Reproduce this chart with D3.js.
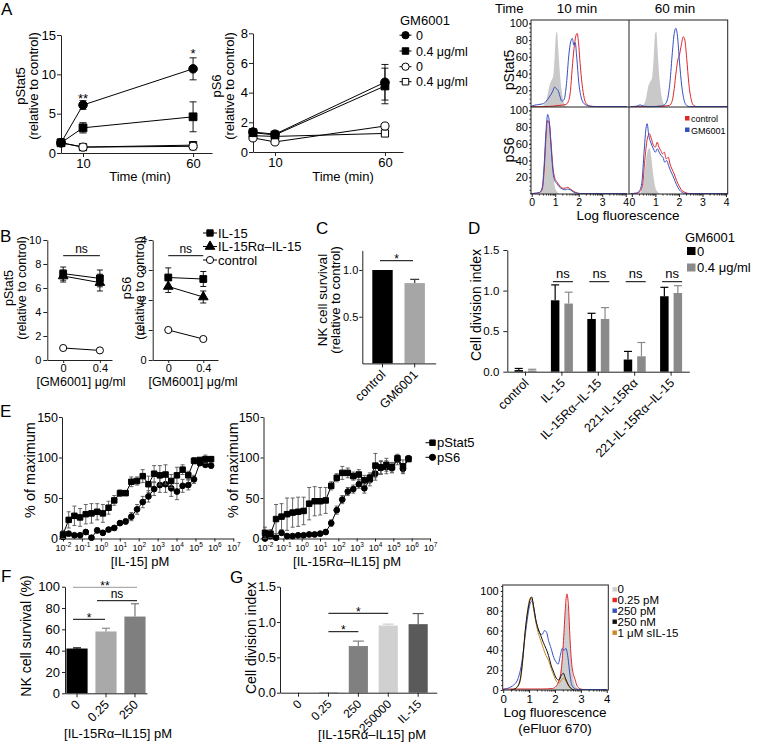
<!DOCTYPE html>
<html><head><meta charset="utf-8">
<script src="https://cdn.jsdelivr.net/npm/d3@7"></script>
<style>body{margin:0;background:#fff}svg{display:block}</style>
</head><body>
<script>
// ================= DATA =================
// Panel A – time course
const aTime = [0, 10, 60];
const aTimeTicks = [10, 60];
const aStat5Ticks = [0, 5, 10, 15];
const aS6Ticks = [0, 2, 4, 6, 8];
const aStat5Gm0 = [1.3, 6.1, 10.7],  aStat5Gm0Err = [0.2, 0.55, 1.4];
const aStat5Gm04 = [1.3, 3.2, 4.6],  aStat5Gm04Err = [0.2, 0.65, 1.9];
const aStat5Un0 = [1.3, 0.75, 0.85], aStat5Un0Err = [0.1, 0.12, 0.45];
const aStat5Un04 = [1.3, 0.75, 1.0], aStat5Un04Err = [0.1, 0.1, 0.35];
const aS6Gm0 = [1.35, 1.2, 4.7],  aS6Gm0Err = [0.2, 0.15, 1.2];
const aS6Gm04 = [1.3, 1.15, 4.45], aS6Gm04Err = [0.2, 0.15, 1.2];
const aS6Un0 = [0.95, 0.68, 1.75], aS6Un0Err = [0.08, 0.08, 0.1];
const aS6Un04 = [1.1, 1.05, 1.25], aS6Un04Err = [0.08, 0.08, 0.1];
const aLegendLabels = ["0", "0.4 μg/ml", "0", "0.4 μg/ml"];

// Panel A – histograms [log fluorescence, % of max]
const histYTicks = [20, 40, 60, 80, 100];
const histXTicks = [0, 1, 2, 3, 4];
const hS5t10Iso = [[0.35,0],[0.5,2],[0.6,6],[0.7,18],[0.78,28],[0.85,32],[0.92,38],[0.98,62],[1.03,86],[1.08,90],[1.13,70],[1.2,40],[1.28,18],[1.36,6],[1.45,1],[1.55,0]];
const hS5t10Ctl = [[-0.05,0.5],[0.5,0.5],[0.9,1],[1.2,2],[1.45,3],[1.55,6],[1.65,20],[1.72,45],[1.8,70],[1.87,84],[1.93,88],[1.99,78],[2.06,52],[2.14,28],[2.24,10],[2.35,3],[2.5,1],[2.8,0.5],[4.05,0.5]];
const hS5t10Gm = [[-0.05,0.5],[0.1,2],[0.3,3],[0.5,4],[0.62,7],[0.75,12],[0.88,18],[0.98,24],[1.04,22],[1.12,20],[1.2,13],[1.28,7],[1.38,9],[1.48,28],[1.58,62],[1.66,78],[1.73,82],[1.79,74],[1.85,77],[1.92,58],[2.0,30],[2.1,12],[2.2,5],[2.35,2],[2.6,0.5],[4.05,0.5]];
const hS5t60Iso = [[0.35,0],[0.5,3],[0.6,10],[0.7,25],[0.78,30],[0.86,35],[0.93,60],[0.99,88],[1.04,90],[1.1,65],[1.17,35],[1.25,15],[1.33,5],[1.42,1],[1.5,0]];
const hS5t60Ctl = [[-0.05,0.5],[0.8,0.5],[1.3,1],[1.6,2],[1.72,8],[1.8,22],[1.88,42],[1.95,56],[2.02,62],[2.1,74],[2.18,84],[2.25,80],[2.33,58],[2.42,28],[2.52,9],[2.62,2],[2.75,0.5],[4.05,0.5]];
const hS5t60Gm = [[-0.05,0.5],[0.2,1],[0.35,2.5],[0.5,1],[0.8,0.5],[1.2,1],[1.4,3],[1.52,10],[1.62,30],[1.72,65],[1.8,88],[1.87,94],[1.94,84],[2.02,55],[2.12,25],[2.22,8],[2.32,2],[2.45,0.5],[4.05,0.5]];
const hS6t10Iso = [[0.3,0],[0.42,4],[0.52,25],[0.6,60],[0.67,80],[0.74,88],[0.81,72],[0.88,40],[0.95,15],[1.05,4],[1.2,0]];
const hS6t10Ctl = [[-0.05,0.5],[0.2,1],[0.35,2],[0.45,6],[0.53,28],[0.61,68],[0.68,88],[0.75,84],[0.82,62],[0.9,33],[0.98,19],[1.06,15],[1.16,11],[1.3,7],[1.42,7],[1.53,8],[1.64,6],[1.8,3],[1.95,1],[2.1,0.5],[4.05,0.5]];
const hS6t10Gm = [[-0.05,0.5],[0.2,1],[0.35,2],[0.45,8],[0.53,35],[0.61,76],[0.68,95],[0.75,86],[0.82,58],[0.9,28],[0.98,16],[1.06,13],[1.16,9],[1.3,6],[1.42,5],[1.53,6],[1.64,5],[1.8,2],[1.95,1],[2.1,0.5],[4.05,0.5]];
const hS6t60Iso = [[0.3,0],[0.42,4],[0.52,20],[0.6,40],[0.68,52],[0.75,55],[0.82,45],[0.9,25],[0.98,10],[1.08,3],[1.2,0]];
const hS6t60Ctl = [[-0.05,0.5],[0.2,1],[0.35,3],[0.45,10],[0.55,40],[0.65,65],[0.75,72],[0.83,66],[0.92,58],[1.0,56],[1.08,62],[1.15,56],[1.23,52],[1.3,48],[1.38,50],[1.46,42],[1.55,44],[1.62,36],[1.7,30],[1.8,24],[1.9,16],[2.0,10],[2.1,5],[2.25,2],[2.45,0.5],[4.05,0.5]];
const hS6t60Gm = [[-0.05,0.5],[0.2,1],[0.33,4],[0.43,15],[0.52,50],[0.6,78],[0.65,84],[0.72,70],[0.8,62],[0.9,55],[1.0,50],[1.08,54],[1.16,50],[1.24,46],[1.32,44],[1.4,38],[1.48,40],[1.56,34],[1.64,28],[1.74,22],[1.84,15],[1.95,8],[2.05,4],[2.2,1],[2.4,0.5],[4.05,0.5]];

// Panel B
const bConc = [0, 0.4];
const bStat5Ticks = [0, 2, 4, 6, 8, 10];
const bS6Ticks = [0, 1, 2, 3, 4];
const bStat5IL15 = [7.2, 6.8], bStat5IL15Err = [0.55, 0.7];
const bStat5Cx = [7.0, 6.45], bStat5CxErr = [0.5, 0.7];
const bStat5Ctl = [1.0, 0.8];
const bS6IL15 = [2.75, 2.7], bS6IL15Err = [0.32, 0.25];
const bS6Cx = [2.45, 2.1], bS6CxErr = [0.2, 0.2];
const bS6Ctl = [1.0, 0.7];
const bLegendLabels = ["IL-15", "IL-15Rα–IL-15", "control"];

// Panel C
const cCats = ["control", "GM6001"];
const cVals = [1.0, 0.86];
const cErr = [0, 0.04];
const cTicks = [0.5, 1.0];

// Panel D
const dCats = ["control", "IL-15", "IL-15Rα–IL-15", "221-IL-15Rα", "221-IL-15Rα–IL-15"];
const dSeries = ["0", "0.4 μg/ml"];
const dVals0 = [0.02, 0.88, 0.65, 0.15, 0.93];
const dErr0 = [0.02, 0.19, 0.07, 0.10, 0.11];
const dVals04 = [0.015, 0.84, 0.65, 0.19, 0.97];
const dErr04 = [0.015, 0.14, 0.14, 0.17, 0.09];
const dTicks = [0, 0.5, 1.0, 1.5];

// Panel E – 2-fold dilution series (pM)
const eConc = [0.01, 0.02, 0.04, 0.08, 0.16, 0.32, 0.64, 1.28, 2.56, 5.12, 10.24, 20.48, 40.96, 81.92, 163.8, 327.7, 655.4, 1311, 2621, 5243, 10486, 20972, 41943, 83886, 167772, 335544, 671089];
const eXTicks = [1e-2, 1e-1, 1e0, 1e1, 1e2, 1e3, 1e4, 1e5, 1e6, 1e7];
const eYTicks = [0, 50, 100, 150];
const eIL15Stat5 = [5, 23, 28, 26, 30, 31, 33, 31, 38, 47, 56, 56, 70, 71, 77, 67, 80, 78, 79, 71, 78, 85, 78, 96, 97, 98, 98];
const eIL15Stat5Err = [5, 10, 12, 11, 12, 12, 10, 11, 8, 6, 4, 3, 6, 5, 8, 10, 10, 12, 12, 8, 10, 6, 5, 4, 3, 5, 3];
const eIL15S6 = [2, 6, 4, 4, 8, 1, 10, 7, 11, 13, 19, 21, 27, 36, 45, 52, 61, 66, 67, 62, 58, 65, 66, 73, 93, 91, 90];
const eIL15S6Err = [3, 2, 2, 2, 3, 1, 3, 3, 2, 2, 3, 3, 5, 6, 7, 7, 8, 9, 10, 10, 10, 8, 6, 5, 3, 3, 3];
const eCxStat5 = [7, 6, 24, 27, 30, 32, 33, 34, 43, 46, 46, 47, 65, 75, 81, 81, 77, 79, 72, 75, 90, 88, 91, 88, 99, 89, 98];
const eCxStat5Err = [7, 5, 18, 16, 20, 18, 18, 17, 20, 18, 17, 16, 5, 5, 8, 6, 5, 6, 6, 6, 15, 8, 8, 6, 5, 8, 3];
const eCxS6 = [0, 3, 1, 7, 3, 3, 4, 4, 5, 5, 6, 8, 19, 35, 48, 58, 61, 67, 62, 72, 80, 87, 88, 87, 97, 86, 99];
const eCxS6Err = [2, 2, 2, 3, 2, 2, 2, 2, 2, 2, 2, 3, 4, 5, 5, 5, 5, 5, 6, 7, 8, 8, 8, 6, 6, 6, 3];

// Panel F
const fCats = ["0", "0.25", "250"];
const fVals = [42, 58, 72];
const fErr = [0.6, 3, 12];
const fTicks = [0, 20, 40, 60, 80, 100];

// Panel G bars
const gCats = ["0", "0.25", "250", "250000", "IL-15"];
const gVals = [0, 0.006, 0.66, 0.95, 0.97];
const gErr = [0, 0, 0.07, 0.02, 0.15];
const gTicks = [0, 0.5, 1.0, 1.5];

// Panel G histogram
const gHistYTicks = [0, 20, 40, 60, 80, 100];
const gHistLabels = ["0", "0.25 pM", "250 pM", "250 nM", "1 μM sIL-15"];
const gH0 = [[1.85,0],[2.0,2],[2.1,6],[2.2,16],[2.3,40],[2.38,72],[2.45,88],[2.52,78],[2.58,50],[2.65,24],[2.72,10],[2.82,3],[2.95,0]];
const gH025 = [[0,1],[0.5,1],[1.0,1],[1.5,1],[1.9,1.5],[2.05,4],[2.15,9],[2.25,22],[2.33,50],[2.4,82],[2.46,97],[2.52,85],[2.58,52],[2.64,28],[2.7,17],[2.76,12],[2.84,5],[2.95,1.5],[3.1,0.5],[4,0.5]];
const gH250p = [[0,0.5],[0.2,2],[0.4,5],[0.55,10],[0.7,25],[0.85,55],[0.95,75],[1.05,88],[1.12,90],[1.2,80],[1.3,65],[1.4,58],[1.5,56],[1.6,60],[1.68,58],[1.75,50],[1.85,42],[1.95,33],[2.05,28],[2.12,26],[2.2,34],[2.28,42],[2.35,40],[2.42,42],[2.5,33],[2.58,15],[2.65,5],[2.8,1],[3.0,0.5],[4,0.5]];
const gH250n = [[0.3,0],[0.5,2],[0.65,10],[0.75,30],[0.85,60],[0.95,80],[1.05,92],[1.1,94],[1.17,85],[1.25,72],[1.35,62],[1.45,55],[1.55,48],[1.65,42],[1.75,35],[1.85,25],[1.95,18],[2.05,12],[2.15,10],[2.25,15],[2.32,17],[2.4,12],[2.5,6],[2.6,2],[2.75,0]];
const gH1u = [[0.3,0],[0.5,2],[0.65,8],[0.75,28],[0.85,58],[0.95,82],[1.05,93],[1.1,92],[1.17,82],[1.25,70],[1.35,58],[1.45,50],[1.55,42],[1.65,35],[1.75,30],[1.85,22],[1.95,15],[2.05,9],[2.15,7],[2.25,10],[2.32,12],[2.4,10],[2.5,5],[2.6,2],[2.75,0]];

// ================= DRAWING =================
const FONT = "'Liberation Sans', Arial, Helvetica, sans-serif";
const RED = "#e0262b", BLUE = "#3550c0", ORANGE = "#c88a22";
const svg = d3.select("body").append("svg").attr("width", 757).attr("height", 742).attr("font-family", FONT);

function T(x, y, s, fs, anchor = "start", fill = "#000") {
  return svg.append("text").attr("x", x).attr("y", y).attr("font-size", fs).attr("text-anchor", anchor).attr("fill", fill).text(s);
}
function VT(x, y, s, fs) {
  return svg.append("text").attr("transform", `translate(${x},${y}) rotate(-90)`).attr("font-size", fs).attr("text-anchor", "middle").text(s);
}
function sty(g, fs) {
  g.attr("font-family", FONT);
  g.select(".domain").attr("stroke", "#222");
  g.selectAll(".tick line").attr("stroke", "#222");
  g.selectAll(".tick text").attr("font-size", fs).attr("fill", "#000");
  return g;
}
function axL(x, sc, ticks, fs, fmt, ts = 4, pad = 2) {
  const a = d3.axisLeft(sc).tickSize(ts).tickSizeOuter(0).tickPadding(pad);
  if (ticks) a.tickValues(ticks);
  a.tickFormat(fmt || (d => d));
  return sty(svg.append("g").attr("transform", `translate(${x},0)`).call(a), fs);
}
function axB(y, sc, ticks, fs, fmt, ts = 4, pad = 2) {
  const a = d3.axisBottom(sc).tickSize(ts).tickSizeOuter(0).tickPadding(pad);
  if (ticks) a.tickValues(ticks);
  a.tickFormat(fmt || (d => d));
  return sty(svg.append("g").attr("transform", `translate(0,${y})`).call(a), fs);
}
function minorL(x, sc, vals, ts) {
  const g = svg.append("g").attr("transform", `translate(${x},0)`).call(d3.axisLeft(sc).tickValues(vals).tickSize(ts).tickFormat(""));
  g.select(".domain").remove(); g.selectAll("line").attr("stroke", "#222");
}
function minorB(y, sc, vals, ts) {
  const g = svg.append("g").attr("transform", `translate(0,${y})`).call(d3.axisBottom(sc).tickValues(vals).tickSize(ts).tickFormat(""));
  g.select(".domain").remove(); g.selectAll("line").attr("stroke", "#222");
}
function errV(g, x, y1, y2, cap, color, lw = 1) {
  g.append("line").attr("x1", x).attr("x2", x).attr("y1", y1).attr("y2", y2).attr("stroke", color).attr("stroke-width", lw);
  [y1, y2].forEach(y => g.append("line").attr("x1", x - cap / 2).attr("x2", x + cap / 2).attr("y1", y).attr("y2", y).attr("stroke", color).attr("stroke-width", lw));
}
function series(sx, sy, xs, ys, errs, sym, size, filled, cap, errColor = "#000") {
  const g = svg.append("g");
  if (errs) ys.forEach((v, i) => { if (errs[i] > 0) errV(g, sx(xs[i]), sy(v - errs[i]), sy(v + errs[i]), cap, errColor, 0.9); });
  g.append("path").attr("d", d3.line().x((d, i) => sx(xs[i])).y(d => sy(d))(ys)).attr("fill", "none").attr("stroke", "#000").attr("stroke-width", 1);
  const s = d3.symbol().type(sym).size(size)();
  ys.forEach((v, i) => g.append("path").attr("d", s).attr("transform", `translate(${sx(xs[i])},${sy(v)})`)
    .attr("fill", filled ? "#000" : "#fff").attr("stroke", "#000").attr("stroke-width", 1));
}
function legendRow(x, y, sym, size, filled, label, fs, lineL, lineR, tx) {
  svg.append("line").attr("x1", x - lineL).attr("x2", x + lineR).attr("y1", y).attr("y2", y).attr("stroke", "#000");
  svg.append("path").attr("d", d3.symbol().type(sym).size(size)()).attr("transform", `translate(${x},${y})`)
    .attr("fill", filled ? "#000" : "#fff").attr("stroke", "#000");
  T(tx, y + fs * 0.36, label, fs);
}
function histLine(sx, sy, pts, color) {
  svg.append("path").attr("d", d3.line().x(d => sx(d[0])).y(d => sy(d[1])).curve(d3.curveMonotoneX)(pts))
    .attr("fill", "none").attr("stroke", color).attr("stroke-width", 1);
}
function histArea(sx, sy, pts, color) {
  svg.append("path").attr("d", d3.area().x(d => sx(d[0])).y0(sy(0)).y1(d => sy(d[1])).curve(d3.curveMonotoneX)(pts))
    .attr("fill", color).attr("stroke", "none");
}
function bars(sx, sy, cats, vals, errs, colors, errColors, capW) {
  const g = svg.append("g");
  cats.forEach((c, i) => {
    const x = sx(c), w = sx.bandwidth();
    g.append("rect").attr("x", x).attr("width", w).attr("y", sy(vals[i])).attr("height", sy(0) - sy(vals[i])).attr("fill", colors[i]);
    if (errs[i] > 0) {
      const cx = x + w / 2;
      g.append("line").attr("x1", cx).attr("x2", cx).attr("y1", sy(vals[i])).attr("y2", sy(vals[i] + errs[i])).attr("stroke", errColors[i]).attr("stroke-width", 1.2);
      g.append("line").attr("x1", cx - capW / 2).attr("x2", cx + capW / 2).attr("y1", sy(vals[i] + errs[i])).attr("y2", sy(vals[i] + errs[i])).attr("stroke", errColors[i]).attr("stroke-width", 1.2);
    }
  });
}
function rotLabels(g, fs) {
  g.selectAll(".tick text").attr("font-size", fs).attr("text-anchor", "end")
    .attr("dy", null).attr("y", null).attr("transform", "translate(4,12) rotate(-45)");
}
function bracket(x1, x2, y, label, ly, fs, color = "#000") {
  svg.append("line").attr("x1", x1).attr("x2", x2).attr("y1", y).attr("y2", y).attr("stroke", color).attr("stroke-width", 1);
  T((x1 + x2) / 2, ly, label, fs, "middle");
}

// ---------- Panel letters ----------
[["A", 1, 15], ["B", 0, 242], ["C", 316, 234], ["D", 468, 234], ["E", 0, 417], ["F", 1, 582], ["G", 230, 583]]
  .forEach(([l, x, y]) => T(x, y, l, 17));

// ---------- Panel A: pStat5 time course ----------
{
  const sx = d3.scaleLinear().domain([0, 68.6]).range([61, 212]);
  const sy = d3.scaleLinear().domain([0, 15]).range([153, 35]);
  axL(61, sy, aStat5Ticks, 13, null, 4, 1);
  axB(153, sx, aTimeTicks, 13, null, 4, 2);
  VT(25, 86, "pStat5", 13); VT(38, 86, "(relative to control)", 13);
  T(140, 181, "Time (min)", 13, "middle");
  series(sx, sy, aTime, aStat5Un04, aStat5Un04Err, d3.symbolSquare, 52, false, 7);
  series(sx, sy, aTime, aStat5Un0, aStat5Un0Err, d3.symbolCircle, 52, false, 7);
  series(sx, sy, aTime, aStat5Gm04, aStat5Gm04Err, d3.symbolSquare, 60, true, 7);
  series(sx, sy, aTime, aStat5Gm0, aStat5Gm0Err, d3.symbolCircle, 58, true, 7);
  T(sx(10), 102.5, "**", 13, "middle");
  T(sx(60), 58, "*", 13, "middle");
}
// ---------- Panel A: pS6 time course ----------
{
  const sx = d3.scaleLinear().domain([0, 68.2]).range([253, 403]);
  const sy = d3.scaleLinear().domain([0, 8]).range([152, 33.3]);
  axL(253, sy, aS6Ticks, 13, null, 4, 1);
  axB(152, sx, aTimeTicks, 13, null, 4, 2);
  VT(221, 86, "pS6", 13); VT(234, 86, "(relative to control)", 13);
  T(343, 181, "Time (min)", 13, "middle");
  series(sx, sy, aTime, aS6Un04, aS6Un04Err, d3.symbolSquare, 52, false, 7);
  series(sx, sy, aTime, aS6Un0, aS6Un0Err, d3.symbolCircle, 52, false, 7);
  series(sx, sy, aTime, aS6Gm04, aS6Gm04Err, d3.symbolSquare, 60, true, 7);
  series(sx, sy, aTime, aS6Gm0, aS6Gm0Err, d3.symbolCircle, 58, true, 7);
  // legend
  T(400, 24.5, "GM6001", 13);
  const syms = [[d3.symbolCircle, true], [d3.symbolSquare, true], [d3.symbolCircle, false], [d3.symbolSquare, false]];
  [35.2, 51, 66.7, 81.7].forEach((y, i) => legendRow(405.5, y, syms[i][0], 42, syms[i][1], aLegendLabels[i], 12.5, 6, 6, 416));
}
// ---------- Panel A: histograms ----------
{
  const x10 = d3.scaleLinear().domain([-0.03, 4.14]).range([531, 629]);
  const x60 = d3.scaleLinear().domain([-0.12, 4.07]).range([629, 727.7]);
  const yTop = d3.scaleLinear().domain([0, 104]).range([107, 20]);
  const yBot = d3.scaleLinear().domain([0, 104]).range([194, 107]);
  const GRAY = "#c9c9c9";
  histArea(x10, yTop, hS5t10Iso, GRAY); histLine(x10, yTop, hS5t10Ctl, RED); histLine(x10, yTop, hS5t10Gm, BLUE);
  histArea(x60, yTop, hS5t60Iso, GRAY); histLine(x60, yTop, hS5t60Ctl, RED); histLine(x60, yTop, hS5t60Gm, BLUE);
  histArea(x10, yBot, hS6t10Iso, GRAY); histLine(x10, yBot, hS6t10Ctl, RED); histLine(x10, yBot, hS6t10Gm, BLUE);
  histArea(x60, yBot, hS6t60Iso, GRAY); histLine(x60, yBot, hS6t60Ctl, RED); histLine(x60, yBot, hS6t60Gm, BLUE);
  svg.append("rect").attr("x", 531).attr("y", 20).attr("width", 196.7).attr("height", 174).attr("fill", "none").attr("stroke", "#222");
  svg.append("line").attr("x1", 629).attr("x2", 629).attr("y1", 20).attr("y2", 194).attr("stroke", "#222");
  svg.append("line").attr("x1", 531).attr("x2", 727.7).attr("y1", 107).attr("y2", 107).attr("stroke", "#222");
  const minorY = d3.range(5, 104, 5);
  [yTop, yBot].forEach(sy => { axL(531, sy, histYTicks, 11, null, 2, 1).select(".domain").remove(); minorL(531, sy, minorY, 1.5); });
  const minorX = [];
  [0, 1, 2, 3].forEach(k => [2, 3, 4, 5, 6, 7, 8, 9].forEach(m => minorX.push(k + Math.log10(m))));
  [x10, x60].forEach(sx => { axB(194, sx, histXTicks, 10.5, null, 3, 2).select(".domain").remove(); minorB(194, sx, minorX, 1.5); });
  T(495, 13, "Time", 13); T(577, 13, "10 min", 13.5, "middle"); T(675, 13, "60 min", 13.5, "middle");
  VT(514, 70, "pStat5", 14); VT(514, 150, "pS6", 14);
  T(628, 219.5, "Log fluorescence", 13.5, "middle");
  svg.append("rect").attr("x", 685).attr("y", 116).attr("width", 4.5).attr("height", 4.5).attr("fill", RED);
  svg.append("rect").attr("x", 685).attr("y", 127.5).attr("width", 4.5).attr("height", 4.5).attr("fill", BLUE);
  T(691, 122, "control", 9); T(691, 133.5, "GM6001", 9);
}

// ---------- Panel B ----------
{
  const sx1 = d3.scaleLinear().domain([-0.173, 0.532]).range([47.3, 112]);
  const sy1 = d3.scaleLinear().domain([0, 10]).range([360, 240]);
  axL(47.3, sy1, bStat5Ticks, 11, null, 4, 2);
  axB(360, sx1, bConc, 11, null, 3, 1);
  VT(13, 288, "pStat5", 12.5); VT(26, 288, "(relative to control)", 12.5);
  T(81, 385.5, "[GM6001] μg/ml", 12.5, "middle");
  series(sx1, sy1, bConc, bStat5Ctl, null, d3.symbolCircle, 40, false, 6);
  series(sx1, sy1, bConc, bStat5Cx, bStat5CxErr, d3.symbolTriangle, 40, true, 6);
  series(sx1, sy1, bConc, bStat5IL15, bStat5IL15Err, d3.symbolSquare, 46, true, 6);
  bracket(sx1(0), sx1(0.4), 255.7, "ns", 253, 12);

  const sx2 = d3.scaleLinear().domain([-0.178, 0.568]).range([152.7, 218]);
  const sy2 = d3.scaleLinear().domain([0, 4]).range([360, 240]);
  axL(152.7, sy2, bS6Ticks, 11, null, 4, 2);
  axB(360, sx2, bConc, 11, null, 3, 1);
  VT(131, 288, "pS6", 12.5); VT(144, 288, "(relative to control)", 12.5);
  T(193, 385.5, "[GM6001] μg/ml", 12.5, "middle");
  series(sx2, sy2, bConc, bS6Ctl, null, d3.symbolCircle, 40, false, 6);
  series(sx2, sy2, bConc, bS6Cx, bS6CxErr, d3.symbolTriangle, 40, true, 6);
  series(sx2, sy2, bConc, bS6IL15, bS6IL15Err, d3.symbolSquare, 46, true, 6);
  bracket(sx2(0), sx2(0.4), 255.7, "ns", 253, 12);

  const bs = [[d3.symbolSquare, true], [d3.symbolTriangle, true], [d3.symbolCircle, false]];
  [233, 246.5, 260].forEach((y, i) => legendRow(210, y, bs[i][0], 40, bs[i][1], bLegendLabels[i], 13, 7, 7, 218));
}

// ---------- Panel C ----------
{
  const sx = d3.scaleBand().domain(cCats).range([366.4, 430.8]).paddingInner(0.366).paddingOuter(0.183);
  const sy = d3.scaleLinear().domain([0, 1.21]).range([363.4, 250.4]);
  bars(sx, sy, cCats, cVals, cErr, ["#000", "#a6a6a6"], ["#000", "#333"], 9);
  axL(362.3, sy, cTicks, 11, d3.format(".1f"), 3, 1);
  const g = axB(363.4, d3.scaleBand().domain(cCats).range([362.3, 435.7]), null, 12.5, null, 4, 2);
  g.selectAll(".tick").remove();
  const gt = axB(363.4, sx, null, 12.5, null, 4, 2);
  gt.select(".domain").remove();
  rotLabels(gt, 12.5);
  VT(327, 300, "NK cell survival", 13.5); VT(340, 300, "(relative to control)", 13);
  bracket(380, 413, 260.7, "*", 263, 12);
}

// ---------- Panel D ----------
{
  const sx = d3.scaleBand().domain(dCats).range([507.3, 689.3]);
  const sy = d3.scaleLinear().domain([0, 1.5]).range([371.7, 250]);
  const inner = d3.scaleBand().domain(dSeries).range([-11, 11]).paddingInner(0.37);
  const g = svg.append("g");
  dCats.forEach((c, i) => {
    const cx = sx(c) + sx.bandwidth() / 2;
    [[dVals0, dErr0, "#000"], [dVals04, dErr04, "#8a8a8a"]].forEach(([vals, errs, col], j) => {
      const x = cx + inner(dSeries[j]), w = inner.bandwidth(), v = vals[i], e = errs[i];
      g.append("rect").attr("x", x).attr("width", w).attr("y", sy(v)).attr("height", sy(0) - sy(v)).attr("fill", col);
      g.append("line").attr("x1", x + w / 2).attr("x2", x + w / 2).attr("y1", sy(v)).attr("y2", sy(v + e)).attr("stroke", col).attr("stroke-width", 1.2);
      g.append("line").attr("x1", x + w / 2 - 4).attr("x2", x + w / 2 + 4).attr("y1", sy(v + e)).attr("y2", sy(v + e)).attr("stroke", col).attr("stroke-width", 1.2);
    });
    if (i > 0) bracket(cx - 9, cx + 11, 281.7, "ns", 278.3, 13);
  });
  axL(507.3, sy, dTicks, 11.5, d3.format(".1f"), 4, 4);
  const gx = axB(371.7, sx, null, 12.5, null, 4, 2);
  rotLabels(gx, 12.5);
  VT(481, 305, "Cell division index", 14);
  T(685, 241.5, "GM6001", 13);
  svg.append("rect").attr("x", 687).attr("y", 247).attr("width", 8.5).attr("height", 8).attr("fill", "#000");
  svg.append("rect").attr("x", 687).attr("y", 263.5).attr("width", 8.5).attr("height", 8).attr("fill", "#8a8a8a");
  T(697, 256, dSeries[0], 13); T(697, 272, dSeries[1], 13);
}

// ---------- Panel E ----------
function eAxisX(y, sx) {
  const g = axB(y, sx, eXTicks, 9, () => "", 3, 2);
  g.selectAll(".tick").each(function (d) {
    const t = d3.select(this).append("text").attr("y", 12).attr("text-anchor", "middle").attr("font-size", 9).attr("fill", "#000");
    t.append("tspan").text("10");
    t.append("tspan").attr("dy", -3.5).attr("font-size", 6.5).text(Math.round(Math.log10(d)));
  });
}
{
  const sy = d3.scaleLinear().domain([0, 150]).range([538.5, 417]);
  const sx1 = d3.scaleLog().domain([1e-2, 1e7]).range([63, 233.3]);
  axL(62, sy, eYTicks, 12.5, null, 3, 1);
  eAxisX(538.5, sx1);
  VT(35, 470, "% of maximum", 14.5);
  T(140, 566, "[IL-15] pM", 13, "middle");
  series(sx1, sy, eConc, eIL15S6, eIL15S6Err, d3.symbolCircle, 26, true, 4, "#555");
  series(sx1, sy, eConc, eIL15Stat5, eIL15Stat5Err, d3.symbolSquare, 30, true, 4, "#555");

  const sx2 = d3.scaleLog().domain([1e-2, 1e7]).range([265, 430]);
  axL(263.5, sy, eYTicks, 12.5, null, 3, 1);
  eAxisX(538.5, sx2);
  VT(238, 470, "% of maximum", 14.5);
  T(347, 566, "[IL-15Rα–IL15] pM", 13, "middle");
  series(sx2, sy, eConc, eCxS6, eCxS6Err, d3.symbolCircle, 26, true, 4, "#555");
  series(sx2, sy, eConc, eCxStat5, eCxStat5Err, d3.symbolSquare, 30, true, 4, "#555");

  legendRow(432.5, 442.7, d3.symbolSquare, 30, true, "pStat5", 13, 7, 2, 437);
  legendRow(432.5, 457.3, d3.symbolCircle, 30, true, "pS6", 13, 7, 2, 437);
}

// ---------- Panel F ----------
{
  const sx = d3.scaleBand().domain(fCats).range([65, 147]).paddingInner(0.27).paddingOuter(0.05);
  const sy = d3.scaleLinear().domain([0, 100]).range([693.3, 586.7]);
  bars(sx, sy, fCats, fVals, fErr, ["#000", "#a9a9a9", "#7f7f7f"], ["#000", "#8a8a8a", "#777"], 8);
  axL(65, sy, fTicks, 13, null, 3, 2);
  const gx = axB(693.3, sx, null, 12.5, null, 4, 2);
  rotLabels(gx, 12.5);
  VT(31, 636, "NK cell survival (%)", 14);
  T(118, 738, "[IL-15Rα–IL15] pM", 13, "middle");
  bracket(73, 137, 587.3, "**", 590, 12, "#999");
  bracket(97, 137, 600.7, "ns", 598.3, 12);
  bracket(73, 105, 619.3, "*", 622, 12);
}

// ---------- Panel G bars ----------
{
  const sx = d3.scaleBand().domain(gCats).range([280, 436.7]).paddingInner(0.36).paddingOuter(0.3);
  const sy = d3.scaleLinear().domain([0, 1.5]).range([692.7, 586.7]);
  const cols = ["#000", "#909090", "#808080", "#d0d0d0", "#5a5a5a"];
  bars(sx, sy, gCats, gVals, gErr, cols, cols, 11);
  axL(280, sy, gTicks, 13, d3.format(".1f"), 3, 1);
  const gx = axB(692.7, sx, null, 12, null, 4, 2);
  rotLabels(gx, 12);
  VT(256, 638, "Cell division index", 14);
  T(372, 739, "[IL-15Rα–IL15] pM", 13, "middle");
  const c = k => sx(k) + sx.bandwidth() / 2;
  bracket(c("0.25"), c("250000"), 613.3, "*", 615.5, 12);
  bracket(c("0.25"), c("250"), 631.7, "*", 633.5, 12);
}

// ---------- Panel G histogram ----------
{
  const sx = d3.scaleLinear().domain([-0.02, 4.06]).range([502.7, 608.3]);
  const sy = d3.scaleLinear().domain([0, 106]).range([690, 585]);
  histArea(sx, sy, gH0, "#cfcfcf");
  histLine(sx, sy, gH025, RED);
  histLine(sx, sy, gH250p, BLUE);
  histLine(sx, sy, gH1u, ORANGE);
  histLine(sx, sy, gH250n, "#111");
  svg.append("rect").attr("x", 502.7).attr("y", 585).attr("width", 105.6).attr("height", 105).attr("fill", "none").attr("stroke", "#222");
  axL(502.7, sy, gHistYTicks, 11, null, 2, 2).select(".domain").remove();
  minorL(502.7, sy, d3.range(5, 106, 5), 1.5);
  const minorX = [];
  [0, 1, 2, 3].forEach(k => [2, 3, 4, 5, 6, 7, 8, 9].forEach(m => minorX.push(k + Math.log10(m))));
  axB(690, sx, histXTicks, 11.5, null, 3, 2).select(".domain").remove();
  minorB(690, sx, minorX, 1.5);
  T(555, 716.5, "Log fluorescence", 13.5, "middle");
  T(555, 732.5, "(eFluor 670)", 13.5, "middle");
  const lc = ["#cfcfcf", RED, BLUE, "#111", ORANGE];
  [589.3, 600, 610.7, 621.7, 632.7].forEach((y, i) => {
    svg.append("rect").attr("x", 612.5).attr("y", y - 2.2).attr("width", 4.4).attr("height", 4.4).attr("fill", lc[i]);
    T(617.5, y + 4, gHistLabels[i], 11.5);
  });
}
</script>
</body></html>
